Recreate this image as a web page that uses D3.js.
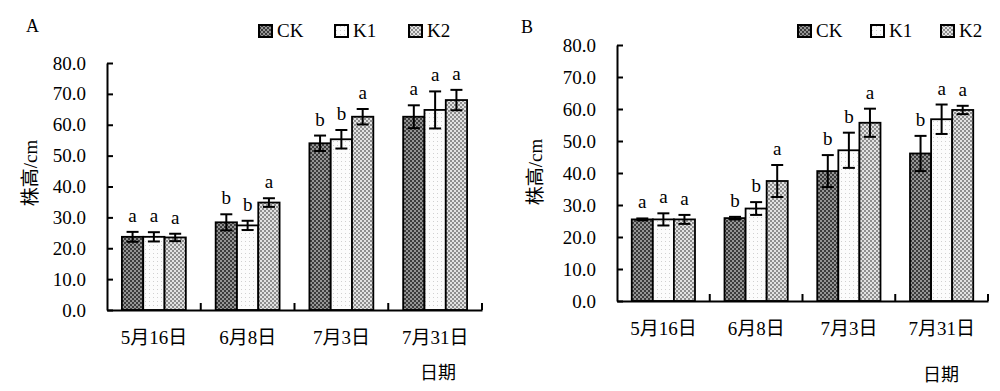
<!DOCTYPE html>
<html><head><meta charset="utf-8">
<script src="https://cdn.jsdelivr.net/npm/d3@7"></script>
<style>
html,body{margin:0;padding:0;background:#fff;}
svg{display:block;}
svg text{font-family:"Liberation Serif","Times New Roman",serif !important;fill:#000;}
svg text.cjk{font-family:"Liberation Serif","Noto Sans CJK SC",serif !important;}
</style></head>
<body>
<svg id="chart" width="1000" height="391"></svg>
<script>
// ---- data ----
const categories = ["5月16日", "6月8日", "7月3日", "7月31日"];
const seriesNames = ["CK", "K1", "K2"];
const yTicks = [0, 10, 20, 30, 40, 50, 60, 70, 80];

const aCK  = [23.7, 28.4, 54.0, 62.6];
const aK1  = [23.7, 27.4, 55.3, 64.8];
const aK2  = [23.5, 34.8, 62.6, 68.0];
const aCKerr = [1.6, 2.6, 2.5, 3.7];
const aK1err = [1.5, 1.5, 3.0, 6.0];
const aK2err = [1.2, 1.4, 2.5, 3.3];
const aCKsig = ["a", "b", "b", "a"];
const aK1sig = ["a", "b", "b", "a"];
const aK2sig = ["a", "a", "a", "a"];

const bCK  = [25.5, 25.9, 40.6, 46.1];
const bK1  = [25.5, 28.9, 47.1, 56.8];
const bK2  = [25.5, 37.5, 55.7, 59.7];
const bCKerr = [0.3, 0.4, 5.0, 5.5];
const bK1err = [1.9, 2.0, 5.5, 4.6];
const bK2err = [1.4, 5.0, 4.4, 1.3];
const bCKsig = ["a", "b", "b", "b"];
const bK1sig = ["a", "b", "b", "a"];
const bK2sig = ["a", "a", "a", "a"];

const svg = d3.select("#chart");

// ---- patterns ----
const defs = svg.append("defs");
function checker(id, c1, c2) {
  const p = defs.append("pattern").attr("id", id).attr("patternUnits", "userSpaceOnUse")
    .attr("width", 4).attr("height", 4);
  p.append("rect").attr("width", 4).attr("height", 4).attr("fill", c1);
  p.append("rect").attr("x", 0).attr("y", 0).attr("width", 2).attr("height", 2).attr("fill", c2);
  p.append("rect").attr("x", 2).attr("y", 2).attr("width", 2).attr("height", 2).attr("fill", c2);
}
checker("pCK", "#3c3c3c", "#959595");
checker("pK2", "#8e8e8e", "#e2e2e2");
(function(){
  const p = defs.append("pattern").attr("id", "pK1").attr("patternUnits", "userSpaceOnUse")
    .attr("width", 4).attr("height", 4);
  p.append("rect").attr("width", 4).attr("height", 4).attr("fill", "#fcfcfc");
  p.append("rect").attr("x", 1).attr("y", 1).attr("width", 1).attr("height", 1).attr("fill", "#d0d0d0");
})();
const fills = {CK: "url(#pCK)", K1: "url(#pK1)", K2: "url(#pK2)"};

function panel(cfg) {
  const g = svg.append("g");
  const x = d3.scaleBand().domain(categories).range([cfg.x0, cfg.x1]).padding(0);
  const xi = d3.scaleBand().domain(seriesNames).range([0, x.bandwidth()])
    .paddingInner(0).paddingOuter(0.7);
  const y = d3.scaleLinear().domain([0, 80]).range([cfg.y0, cfg.y1]);

  const series = [
    {name: "CK", vals: cfg.ck, err: cfg.ckErr, sig: cfg.ckSig},
    {name: "K1", vals: cfg.k1, err: cfg.k1Err, sig: cfg.k1Sig},
    {name: "K2", vals: cfg.k2, err: cfg.k2Err, sig: cfg.k2Sig}
  ];
  const rows = [];
  series.forEach(s => categories.forEach((c, i) => rows.push({s: s.name, c, v: s.vals[i], e: s.err[i], sig: s.sig[i]})));

  // bars
  g.selectAll("rect.bar").data(rows).join("rect").attr("class", "bar")
    .attr("x", d => x(d.c) + xi(d.s))
    .attr("width", xi.bandwidth())
    .attr("y", d => y(d.v))
    .attr("height", d => y(0) - y(d.v))
    .attr("fill", d => fills[d.s])
    .attr("stroke", "#000").attr("stroke-width", 1.8);

  // error bars
  const cap = 6;
  const eb = g.selectAll("g.err").data(rows).join("g").attr("class", "err")
    .attr("stroke", "#000").attr("stroke-width", 2);
  const cx = d => x(d.c) + xi(d.s) + xi.bandwidth() / 2;
  eb.append("line").attr("x1", cx).attr("x2", cx).attr("y1", d => y(d.v + d.e)).attr("y2", d => y(d.v - d.e));
  eb.append("line").attr("x1", d => cx(d) - cap).attr("x2", d => cx(d) + cap).attr("y1", d => y(d.v + d.e)).attr("y2", d => y(d.v + d.e));
  eb.append("line").attr("x1", d => cx(d) - cap).attr("x2", d => cx(d) + cap).attr("y1", d => y(d.v - d.e)).attr("y2", d => y(d.v - d.e));

  // significance letters
  g.selectAll("text.sig").data(rows).join("text").attr("class", "sig")
    .attr("x", cx).attr("y", d => y(d.v + d.e) - 10)
    .attr("text-anchor", "middle").style("font-size", "19px").text(d => d.sig);

  // y axis
  const ya = d3.axisLeft(y).tickValues(yTicks).tickFormat(d3.format(".1f"))
    .tickSizeInner(-6).tickSizeOuter(0).tickPadding(21);
  const yg = g.append("g").attr("transform", `translate(${cfg.x0},0)`).call(ya)
    .attr("font-family", null).attr("font-size", null);
  yg.select(".domain").attr("stroke", "#000").attr("stroke-width", 2);
  yg.selectAll(".tick line").attr("stroke", "#000").attr("stroke-width", 2);
  yg.selectAll(".tick text").style("font-size", "19px").attr("fill", "#000");

  // x axis
  const xa = d3.axisBottom(x).tickSize(0).tickPadding(21);
  const xg = g.append("g").attr("transform", `translate(0,${cfg.y0})`).call(xa)
    .attr("font-family", null).attr("font-size", null);
  xg.select(".domain").attr("stroke", "#000").attr("stroke-width", 2);
  xg.selectAll(".tick text").attr("class", "cjk").style("font-size", "19px").attr("fill", "#000");
  // category separator ticks (pointing up)
  g.selectAll("line.sep").data(categories.slice(1).map(c => x(c)).concat([x(categories[categories.length - 1]) + x.bandwidth()]))
    .join("line").attr("class", "sep")
    .attr("x1", d => d).attr("x2", d => d).attr("y1", y(0)).attr("y2", y(0) - 7)
    .attr("stroke", "#000").attr("stroke-width", 2);

  // axis titles
  g.append("text").attr("class", "cjk")
    .attr("transform", `translate(${cfg.ytX},${cfg.ytY}) rotate(-90)`)
    .attr("text-anchor", "middle").style("font-size", "19px").text("株高/cm");
  g.append("text").attr("class", "cjk").attr("x", cfg.xtX).attr("y", cfg.xtY)
    .attr("text-anchor", "middle").style("font-size", "18px").text("日期");
  g.append("text").attr("x", cfg.lblX).attr("y", cfg.lblY).style("font-size", "18px").text(cfg.label);

  // legend
  const lg = g.selectAll("g.leg").data(seriesNames).join("g").attr("class", "leg")
    .attr("transform", (d, i) => `translate(${cfg.legX[i]},${cfg.legY})`);
  lg.append("rect").attr("x", 0).attr("y", -12).attr("width", 13).attr("height", 12)
    .attr("fill", d => fills[d]).attr("stroke", "#000").attr("stroke-width", 2);
  lg.append("text").attr("x", 18).attr("y", 0).style("font-size", "19px").text(d => d);
}

panel({
  x0: 107, x1: 482, y0: 310, y1: 63,
  ck: aCK, k1: aK1, k2: aK2, ckErr: aCKerr, k1Err: aK1err, k2Err: aK2err,
  ckSig: aCKsig, k1Sig: aK1sig, k2Sig: aK2sig,
  ytX: 37, ytY: 173, xtX: 438, xtY: 379, label: "A", lblX: 26, lblY: 32,
  legX: [259, 335, 409], legY: 37
});
panel({
  x0: 617, x1: 988, y0: 301, y1: 45,
  ck: bCK, k1: bK1, k2: bK2, ckErr: bCKerr, k1Err: bK1err, k2Err: bK2err,
  ckSig: bCKsig, k1Sig: bK1sig, k2Sig: bK2sig,
  ytX: 542, ytY: 172, xtX: 941, xtY: 381, label: "B", lblX: 521, lblY: 33,
  legX: [798, 871, 941], legY: 37
});
</script>
</body></html>
